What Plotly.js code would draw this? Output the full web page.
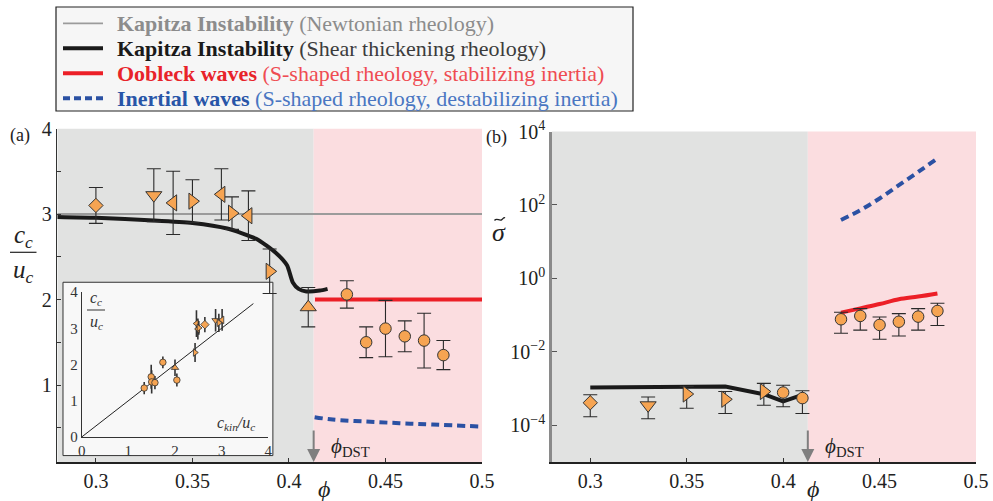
<!DOCTYPE html>
<html><head><meta charset="utf-8">
<script src="https://cdn.plot.ly/plotly-3.0.1.min.js"></script>
<style>html,body{margin:0;padding:0;background:#fff}#plot{width:993px;height:501px}</style>
</head><body><div id="plot"></div>
<script>
// ---------- panel (a) data ----------
const phiNewt = [0.28, 0.5];
const ccNewt = [3, 3];
const phiShear = [0.28, 0.30, 0.33, 0.35, 0.368, 0.383, 0.393, 0.399, 0.402, 0.405, 0.409, 0.416, 0.42];
const ccShear = [2.965, 2.955, 2.925, 2.895, 2.83, 2.71, 2.55, 2.40, 2.20, 2.125, 2.095, 2.105, 2.125];
const phiOob = [0.4135, 0.5];
const ccOob = [2, 2];
const phiInert = [0.4133, 0.4227, 0.44, 0.4572, 0.4744, 0.4986];
const ccInert = [0.624, 0.596, 0.573, 0.554, 0.538, 0.515];
const phiExp = [0.30, 0.33, 0.34, 0.35, 0.365, 0.3705, 0.379, 0.39, 0.41, 0.43, 0.44, 0.45, 0.46, 0.47, 0.48];
const ccExp = [3.10, 3.22, 3.13, 3.15, 3.23, 3.01, 2.98, 2.33, 1.91, 2.06, 1.50, 1.66, 1.57, 1.52, 1.35];
const ccErr = [0.21, 0.31, 0.37, 0.25, 0.30, 0.19, 0.29, 0.26, 0.23, 0.16, 0.18, 0.33, 0.18, 0.32, 0.17];
const expSymbols = ['diamond', 'triangle-down', 'triangle-left', 'triangle-right', 'triangle-left', 'triangle-right',
  'triangle-left', 'triangle-right', 'triangle-up', 'circle', 'circle', 'circle', 'circle', 'circle', 'circle'];

// ---------- panel (b) data ----------
const phiShearS = [0.30, 0.33, 0.35, 0.37, 0.39, 0.40, 0.41];
const sigShear = [1.07e-3, 1.07e-3, 1.1e-3, 1.13e-3, 7.0e-4, 4.5e-4, 6.7e-4];
const phiOobS = [0.43, 0.44, 0.45, 0.46, 0.47, 0.48];
const sigOob = [0.117, 0.153, 0.20, 0.27, 0.32, 0.39];
const phiInertS = [0.43, 0.44, 0.45, 0.46, 0.47, 0.48];
const sigInert = [39, 72, 150, 345, 790, 1860];
const phiSig = [0.30, 0.33, 0.35, 0.37, 0.39, 0.40, 0.41, 0.43, 0.44, 0.45, 0.46, 0.47, 0.48];
const sigExp = [4.1e-4, 3.5e-4, 7.1e-4, 5.1e-4, 8.3e-4, 7.8e-4, 5.5e-4, 0.077, 0.095, 0.054, 0.066, 0.091, 0.13];
const sigLo = [1.7e-4, 1.5e-4, 2.9e-4, 2.1e-4, 3.5e-4, 3.2e-4, 2.1e-4, 0.032, 0.039, 0.022, 0.027, 0.039, 0.052];
const sigHi = [6.8e-4, 5.9e-4, 1.15e-3, 8.3e-4, 1.38e-3, 1.23e-3, 8.7e-4, 0.12, 0.15, 0.089, 0.11, 0.15, 0.21];
const sigSymbols = ['diamond', 'triangle-down', 'triangle-right', 'triangle-right', 'triangle-right', 'circle', 'circle',
  'circle', 'circle', 'circle', 'circle', 'circle', 'circle'];

// ---------- inset data ----------
const ckinIn = [1.34, 1.49, 1.50, 1.57, 1.74, 2.00, 2.04, 2.43, 2.46, 2.49, 2.51, 2.64, 2.87, 2.94, 3.01];
const ccIn = [1.35, 1.66, 1.52, 1.50, 2.06, 1.91, 1.57, 2.33, 3.13, 2.98, 3.01, 3.10, 3.22, 3.15, 3.23];
const ccInErr = [0.17, 0.33, 0.32, 0.18, 0.16, 0.23, 0.18, 0.26, 0.37, 0.29, 0.19, 0.21, 0.31, 0.25, 0.30];
const inSymbols = ['circle', 'circle', 'circle', 'circle', 'circle', 'triangle-up', 'circle', 'triangle-right',
  'triangle-left', 'triangle-left', 'triangle-right', 'diamond', 'triangle-down', 'triangle-right', 'triangle-left'];
const diagX = [0, 3.68];
const diagY = [0, 3.68];

const phiDST = 0.4128;
const xTicks = [0.3, 0.35, 0.4, 0.45, 0.5];
const xTickText = ['0.3', '0.35', '0.4', '0.45', '0.5'];
const yTicksA = [1, 2, 3, 4];
const yTickTextA = ['1', '2', '3', '4'];
const yTicksB = [1e-4, 1e-2, 1, 1e2, 1e4];
const yTickTextB = ['10<sup>−4</sup>', '10<sup>−2</sup>', '10<sup>0</sup>', '10<sup>2</sup>', '10<sup>4</sup>'];
const inTicks = [0, 1, 2, 3, 4];

// ---------- styling ----------
const W = 993, H = 501;
const X = p => p / W, Y = p => 1 - p / H;
const FONT = '"Liberation Serif", "DejaVu Serif", serif';
const ORANGE = '#f6a452';
const GRAYC = '#9b9b9b', BLACKC = '#1a1a1a', REDC = '#ec1f27', BLUEC = '#2b51a3';
const sz = s => s === 'circle' ? 11.5 : (s === 'diamond' ? 11 : 14);

const traces = [
  {x: phiNewt, y: ccNewt, mode: 'lines', line: {color: GRAYC, width: 1.8}, xaxis: 'x', yaxis: 'y'},
  {x: phiShear, y: ccShear, mode: 'lines', line: {color: BLACKC, width: 4, shape: 'spline', smoothing: 0.6}, xaxis: 'x', yaxis: 'y'},
  {x: phiOob, y: ccOob, mode: 'lines', line: {color: REDC, width: 4}, xaxis: 'x', yaxis: 'y'},
  {x: phiInert, y: ccInert, mode: 'lines', line: {color: BLUEC, width: 4, dash: '8px,5px', shape: 'spline'}, xaxis: 'x', yaxis: 'y'},
  {x: phiExp, y: ccExp, mode: 'markers', xaxis: 'x', yaxis: 'y',
    error_y: {type: 'data', array: ccErr, visible: true, color: '#2a2a2a', thickness: 1.1, width: 7},
    marker: {symbol: expSymbols, size: expSymbols.map(sz), opacity: 1, color: ORANGE, line: {color: '#333', width: 1}}},

  {x: phiShearS, y: sigShear, mode: 'lines', line: {color: BLACKC, width: 4}, xaxis: 'x2', yaxis: 'y2'},
  {x: phiOobS, y: sigOob, mode: 'lines', line: {color: REDC, width: 4, shape: 'spline'}, xaxis: 'x2', yaxis: 'y2'},
  {x: phiInertS, y: sigInert, mode: 'lines', line: {color: BLUEC, width: 4, dash: '8px,5px', shape: 'spline'}, xaxis: 'x2', yaxis: 'y2'},
  {x: phiSig, y: sigExp, mode: 'markers', xaxis: 'x2', yaxis: 'y2',
    error_y: {type: 'data', symmetric: false, array: sigExp.map((v, i) => sigHi[i] - v),
      arrayminus: sigExp.map((v, i) => v - sigLo[i]), visible: true, color: '#2a2a2a', thickness: 1.1, width: 7},
    marker: {symbol: sigSymbols, size: sigSymbols.map(sz), opacity: 1, color: ORANGE, line: {color: '#333', width: 1}}},

  {x: diagX, y: diagY, mode: 'lines', line: {color: '#222', width: 1}, xaxis: 'x3', yaxis: 'y3'},
  {x: ckinIn, y: ccIn, mode: 'markers', xaxis: 'x3', yaxis: 'y3',
    error_y: {type: 'data', array: ccInErr, visible: true, color: '#333', thickness: 1.6, width: 0},
    marker: {symbol: inSymbols, size: 6.5, opacity: 1, color: ORANGE, line: {color: '#333', width: 0.8}}}
];

const tickfont = {family: FONT, size: 20, color: '#222'};
const baseX = {range: [0.28, 0.5], tickvals: xTicks, ticktext: xTickText, ticks: 'inside', ticklen: 4, tickcolor: '#333',
  showline: true, linecolor: '#222', linewidth: 1.5, showgrid: false, zeroline: false, tickfont: tickfont, fixedrange: true};

// tilde over sigma drawn as a small wave path (paper coords)
const tx0 = 494.5, ty = 219.5;
const tildePath = `M ${X(tx0)},${Y(ty + 1)} C ${X(tx0 + 2.5)},${Y(ty - 2.5)} ${X(tx0 + 5)},${Y(ty + 2.5)} ${X(tx0 + 7.5)},${Y(ty)} ` +
  `S ${X(tx0 + 10)},${Y(ty - 2)} ${X(tx0 + 10.5)},${Y(ty - 1.5)}`;

const layout = {
  width: W, height: H, margin: {l: 0, r: 0, t: 0, b: 0, pad: 0},
  paper_bgcolor: '#fff', plot_bgcolor: 'rgba(0,0,0,0)', showlegend: false,
  font: {family: FONT, color: '#222'},
  xaxis: Object.assign({}, baseX, {domain: [X(57.3), X(482)], anchor: 'y'}),
  yaxis: {domain: [Y(462), Y(128.5)], range: [0.1, 4], anchor: 'x', tickvals: yTicksA, ticktext: yTickTextA,
    ticks: 'inside', ticklen: 4, tickcolor: '#333', showline: true, linecolor: '#333', linewidth: 1.5,
    minor: {tick0: 0.5, dtick: 0.5, ticks: 'inside', ticklen: 4, tickcolor: '#333', showgrid: false},
    showgrid: false, zeroline: false, tickfont: tickfont},
  xaxis2: Object.assign({}, baseX, {domain: [X(551.7), X(976)], anchor: 'y2'}),
  yaxis2: {domain: [Y(462), Y(131.5)], type: 'log', range: [-5, 4], anchor: 'x2', tickvals: yTicksB, ticktext: yTickTextB,
    ticks: 'inside', ticklen: 5, tickcolor: '#555', showline: true, linecolor: '#8a8a8a', linewidth: 2.5,
    showgrid: false, zeroline: false, tickfont: tickfont},
  xaxis3: {domain: [X(81.7), X(268.3)], range: [0, 4], anchor: 'y3', tickvals: inTicks, ticks: '',
    showline: true, linecolor: '#333', linewidth: 1, showgrid: false, zeroline: false,
    tickfont: {family: FONT, size: 15, color: '#333'}},
  yaxis3: {domain: [Y(437), Y(292)], range: [0, 4], anchor: 'x3', tickvals: inTicks, ticks: '',
    showline: true, linecolor: '#333', linewidth: 1, showgrid: false, zeroline: false,
    tickfont: {family: FONT, size: 15, color: '#333'}},
  shapes: [
    {type: 'rect', xref: 'x', yref: 'y', x0: 0.28, x1: phiDST, y0: 0.1, y1: 4, fillcolor: '#e1e2e1', line: {width: 0}, layer: 'below'},
    {type: 'rect', xref: 'x', yref: 'y', x0: phiDST, x1: 0.5, y0: 0.1, y1: 4, fillcolor: '#fbdde0', line: {width: 0}, layer: 'below'},
    {type: 'rect', xref: 'x2', yref: 'y2 domain', x0: 0.28, x1: phiDST, y0: 0, y1: 1, fillcolor: '#e1e2e1', line: {width: 0}, layer: 'below'},
    {type: 'rect', xref: 'x2', yref: 'y2 domain', x0: phiDST, x1: 0.5, y0: 0, y1: 1, fillcolor: '#fbdde0', line: {width: 0}, layer: 'below'},
    // inset frame (in panel (a) data units)
    {type: 'rect', xref: 'x', yref: 'y', x0: 0.28295, x1: 0.39168, y0: 0.175, y1: 2.202, fillcolor: '#f8f8f8',
      line: {color: '#333', width: 1}, layer: 'below'},
    // legend box
    {type: 'rect', xref: 'paper', yref: 'paper', x0: X(56), x1: X(633), y0: Y(111), y1: Y(7), fillcolor: '#f6f6f6', line: {color: '#222', width: 1.2}},
    {type: 'line', xref: 'paper', yref: 'paper', x0: X(63), x1: X(103), y0: Y(23.3), y1: Y(23.3), line: {color: GRAYC, width: 1.8}},
    {type: 'line', xref: 'paper', yref: 'paper', x0: X(63), x1: X(103), y0: Y(48.3), y1: Y(48.3), line: {color: BLACKC, width: 4}},
    {type: 'line', xref: 'paper', yref: 'paper', x0: X(63), x1: X(103), y0: Y(73.3), y1: Y(73.3), line: {color: REDC, width: 4}},
    {type: 'line', xref: 'paper', yref: 'paper', x0: X(63), x1: X(103), y0: Y(98.3), y1: Y(98.3), line: {color: BLUEC, width: 4, dash: '7px,4px'}},
    // fraction bars
    {type: 'line', xref: 'paper', yref: 'paper', x0: X(10), x1: X(36.5), y0: Y(252.3), y1: Y(252.3), line: {color: '#222', width: 1.2}},
    {type: 'line', xref: 'paper', yref: 'paper', x0: X(87), x1: X(105), y0: Y(310), y1: Y(310), line: {color: '#333', width: 1}},
    // tilde
    {type: 'path', xref: 'paper', yref: 'paper', path: tildePath, line: {color: '#222', width: 1.3}}
  ],
  annotations: []
};

const A = layout.annotations;
const ann = (px, py, text, size, color, xanchor) => A.push({xref: 'paper', yref: 'paper', x: X(px), y: Y(py), text: text,
  showarrow: false, xanchor: xanchor || 'center', yanchor: 'middle', font: {family: FONT, size: size, color: color || '#222'}});

// legend text
ann(115, 23.3, '<b>Kapitza Instability</b> (Newtonian rheology)', 22, '#8c8c8c', 'left');
ann(115, 48.3, '<b><span style="color:#1a1a1a">Kapitza Instability</span></b> (Shear thickening rheology)', 22, '#3c3c3c', 'left');
ann(115, 73.3, '<b><span style="color:#e8232a">Oobleck waves</span></b> (S-shaped rheology, stabilizing inertia)', 22, '#ef4c52', 'left');
ann(115, 98.3, '<b><span style="color:#2855a8">Inertial waves</span></b> (S-shaped rheology, destabilizing inertia)', 22, '#4a76c2', 'left');

// panel labels
ann(20, 135, '(a)', 18);
ann(496, 137, '(b)', 18);
// axis titles
ann(23.5, 236, '<i>c</i><sub><i>c</i></sub>', 25);
ann(23.5, 271, '<i>u</i><sub><i>c</i></sub>', 25);
ann(499, 232, '<i>σ</i>', 26);
ann(324, 489, '<i>ϕ</i>', 24);
ann(813, 489, '<i>ϕ</i>', 24);
// inset labels
ann(96, 298, '<i>c</i><sub><i>c</i></sub>', 16, '#333');
ann(96, 322, '<i>u</i><sub><i>c</i></sub>', 16, '#333');
ann(236, 423, '<i>c</i><sub><i>kin</i></sub><i>/u</i><sub><i>c</i></sub>', 16, '#333');
// phi_DST labels
ann(350, 447, '<i>ϕ</i><sub>DST</sub>', 21);
ann(844, 447, '<i>ϕ</i><sub>DST</sub>', 21);
// arrows (log axis annotations use log10 units)
A.push({xref: 'x', yref: 'y', x: phiDST, y: 0.1, ax: 0, ay: -33, text: '', showarrow: true,
  arrowhead: 2, arrowsize: 1.3, arrowwidth: 2, arrowcolor: '#7f7f7f'});
A.push({xref: 'x2', yref: 'y2', x: phiDST, y: -5, ax: 0, ay: -33, text: '', showarrow: true,
  arrowhead: 2, arrowsize: 1.3, arrowwidth: 2, arrowcolor: '#7f7f7f'});

Plotly.newPlot('plot', traces, layout, {displayModeBar: false, staticPlot: true});
</script></body></html>
